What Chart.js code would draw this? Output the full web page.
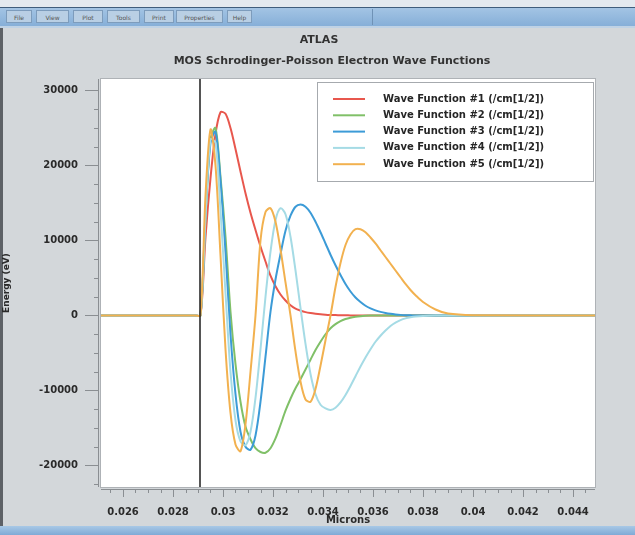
<!DOCTYPE html>
<html>
<head>
<meta charset="utf-8">
<script src="https://cdn.jsdelivr.net/npm/chart.js@4.4.0/dist/chart.umd.min.js"></script>
<style>
  html, body { margin: 0; padding: 0; }
  body { width: 635px; height: 535px; background: #d3d7da; position: relative; overflow: hidden; font-family: "DejaVu Sans", sans-serif; }
  #topstrip { position: absolute; left: 0; top: 0; width: 635px; height: 7px; background: #e3e9ef; border-bottom: 1px solid #3f5d7c; }
  #toolbar { position: absolute; left: 0; top: 8px; width: 635px; height: 18px; background: linear-gradient(#a3c4e4, #86afd8); border-bottom: 2px solid #bfd2e5; }
  .btn { position: absolute; top: 2px; height: 13px; background: #b9cfe4; border: 1px solid #7d9cbc; font-size: 6px; line-height: 13px; color: #555; text-align: center; box-sizing: border-box; }
  #sep { position: absolute; left: 372px; top: 1px; width: 1px; height: 16px; background: #6f92b6; }
  #leftedge { position: absolute; left: 0; top: 28px; width: 3px; height: 498px; background: #5d6166; }
  #bottombar { position: absolute; left: 0; top: 526px; width: 635px; height: 9px; background: linear-gradient(#a8c8e6, #7faad6); }
  .title { position: absolute; transform: translateX(-50%); white-space: nowrap; font-weight: bold; font-size: 11px; line-height: 14px; color: #333; }
  #chartBox { position: absolute; left: 0; top: 0; width: 635px; height: 535px; }
</style>
</head>
<body>
<div id="topstrip"></div>
<div id="toolbar">
  <div class="btn" style="left:6px;width:26px">File</div>
  <div class="btn" style="left:36px;width:33px">View</div>
  <div class="btn" style="left:73px;width:30px">Plot</div>
  <div class="btn" style="left:107px;width:33px">Tools</div>
  <div class="btn" style="left:144px;width:30px">Print</div>
  <div class="btn" style="left:176px;width:47px">Properties</div>
  <div class="btn" style="left:227px;width:25px">Help</div>
  <div id="sep"></div>
</div>
<div id="leftedge"></div>
<div id="bottombar"></div>
<div id="chartBox"><canvas id="waveChart" width="635" height="535"></canvas></div>
<div class="title" style="left:319px;top:33px">ATLAS</div>
<div class="title" style="left:332px;top:54px">MOS Schrodinger-Poisson Electron Wave Functions</div>

<script>
// position in microns
const xMicrons = [0.02512, 0.0289, 0.0291, 0.0293, 0.0295, 0.0297, 0.0299, 0.0301, 0.0303, 0.0305,
  0.0307, 0.0309, 0.0311, 0.0313, 0.0315, 0.0317, 0.0319, 0.0321, 0.0323, 0.0325,
  0.0327, 0.0329, 0.0331, 0.0333, 0.0335, 0.0337, 0.0339, 0.0341, 0.0343, 0.0345,
  0.0347, 0.0349, 0.0351, 0.0353, 0.0355, 0.0357, 0.0359, 0.0361, 0.0363, 0.0365,
  0.0367, 0.0369, 0.0371, 0.0373, 0.0375, 0.0377, 0.0380, 0.0385, 0.0390, 0.0400,
  0.04488];

const wave1 = [0, 0, 0, 10400, 18300, 24200, 27100, 26900, 25000, 22200,
  19200, 16300, 13700, 11400, 9200, 7200, 5300, 3900, 2800, 2000,
  1350, 900, 650, 450, 320, 230, 160, 110, 75, 50,
  30, 20, 10, 0, 0, 0, 0, 0, 0, 0,
  0, 0, 0, 0, 0, 0, 0, 0, 0, 0,
  0];

const wave2 = [0, 0, 0, 13000, 23500, 25000, 18500, 10500, 500, -6500,
  -11500, -14800, -16500, -17700, -18200, -18300, -17700, -16400, -14600, -12700,
  -11100, -9700, -8500, -7200, -5900, -4600, -3500, -2500, -1700, -1150,
  -750, -470, -290, -170, -90, -40, -15, 0, 0, 0,
  0, 0, 0, 0, 0, 0, 0, 0, 0, 0,
  0];

const wave3 = [0, 0, 0, 13500, 23000, 24500, 18000, 8500, -2500, -10500,
  -15500, -17500, -17900, -16000, -11500, -5500, 500, 4800, 8200, 11300,
  13300, 14500, 14800, 14500, 13700, 12500, 11100, 9600, 8100, 6700,
  5400, 4200, 3200, 2400, 1800, 1300, 950, 680, 480, 330,
  220, 140, 80, 40, 20, 0, 0, 0, 0, 0,
  0];

const wave4 = [0, 0, 0, 13000, 23500, 23000, 14000, 3000, -7500, -14000,
  -16800, -17300, -15500, -11000, -4500, 2500, 8500, 12700, 14300, 13500,
  10500, 6000, 1000, -3800, -7800, -10500, -11900, -12400, -12600, -12300,
  -11600, -10600, -9400, -8100, -6800, -5600, -4500, -3500, -2700, -2000,
  -1400, -950, -620, -390, -240, -140, -60, -15, 0, 0,
  0];

const wave5 = [0, 0, 0, 16000, 24800, 20000, 8000, -4500, -13000, -17200,
  -18100, -14500, -7500, 0, 10000, 13800, 14300, 12500, 8800, 4400,
  0, -4800, -8800, -11200, -11500, -9800, -6700, -3300, 0, 3800,
  7000, 9400, 10800, 11500, 11500, 11100, 10400, 9600, 8700, 7800,
  6900, 6000, 5100, 4200, 3400, 2700, 1800, 800, 250, 40,
  0];

const seriesLabels = [
  'Wave Function #1 (/cm[1/2])',
  'Wave Function #2 (/cm[1/2])',
  'Wave Function #3 (/cm[1/2])',
  'Wave Function #4 (/cm[1/2])',
  'Wave Function #5 (/cm[1/2])'
];
const seriesColors = ['#e8574d', '#80c068', '#3c9bd7', '#a5dbe5', '#f2b14f'];

const xMajorTicks = [0.026, 0.028, 0.030, 0.032, 0.034, 0.036, 0.038, 0.040, 0.042, 0.044];
const xTickLabels = ['0.026', '0.028', '0.03', '0.032', '0.034', '0.036', '0.038', '0.04', '0.042', '0.044'];
const yMajorTicks = [-20000, -10000, 0, 10000, 20000, 30000];
const yTickLabels = ['-20000', '-10000', '0', '10000', '20000', '30000'];

// oxide / silicon interface
const interfaceX = 0.02908;

const xMin = 0.02512, xMax = 0.04488;
const yMin = -22870, yMax = 31530;

function majorIndex(list, v){
    return list.findIndex(t => Math.abs(t - v) < 1e-7);
}

var waves = [wave1, wave2, wave3, wave4, wave5];
var datasets = waves.map(function(w, i){
    return {
        label: seriesLabels[i],
        data: xMicrons.map((x, j) => ({ x: x, y: w[j] })),
        borderColor: seriesColors[i],
        backgroundColor: seriesColors[i],
        borderWidth: 2,
        pointRadius: 0,
        tension: 0.3,
        order: 4 - i   // #5 ends up on top
    };
});

const plotFrame = {
    id: 'plotFrame',
    beforeDatasetsDraw(chart){
        const { ctx, chartArea: a } = chart;
        ctx.save();
        ctx.fillStyle = '#ffffff';
        ctx.fillRect(a.left, a.top, a.right - a.left, a.bottom - a.top);
        ctx.strokeStyle = '#aeb2b6';
        ctx.lineWidth = 1;
        ctx.strokeRect(a.left - 0.5, a.top - 0.5, a.right - a.left + 1, a.bottom - a.top + 1);
        ctx.restore();
    },
    afterDraw(chart){
        const { ctx, chartArea: a, scales } = chart;
        const x = scales.x, y = scales.y;
        ctx.save();
        ctx.strokeStyle = '#8a8e92';
        ctx.lineWidth = 1;
        ctx.beginPath();
        // axis lines
        ctx.moveTo(a.left, a.bottom + 2.5); ctx.lineTo(a.right, a.bottom + 2.5);
        ctx.moveTo(a.left - 2.5, a.top); ctx.lineTo(a.left - 2.5, a.bottom);
        x.ticks.forEach(t => {
            const px = Math.round(x.getPixelForValue(t.value)) + 0.5;
            const len = majorIndex(xMajorTicks, t.value) >= 0 ? 8 : 4;
            ctx.moveTo(px, a.bottom + 2); ctx.lineTo(px, a.bottom + 2 + len);
        });
        y.ticks.forEach(t => {
            const py = Math.round(y.getPixelForValue(t.value)) + 0.5;
            const len = majorIndex(yMajorTicks, t.value) >= 0 ? 14 : 5;
            ctx.moveTo(a.left - 2, py); ctx.lineTo(a.left - 2 - len, py);
        });
        ctx.stroke();
        ctx.restore();
    }
};

const interfaceLine = {
    id: 'interfaceLine',
    afterDatasetsDraw(chart){
        const { ctx, chartArea: a, scales } = chart;
        const px = scales.x.getPixelForValue(interfaceX);
        ctx.save();
        ctx.strokeStyle = '#1c1c1c';
        ctx.lineWidth = 1.5;
        ctx.beginPath();
        ctx.moveTo(px, a.top);
        ctx.lineTo(px, a.bottom);
        ctx.stroke();
        ctx.restore();
    }
};

const boxLegend = {
    id: 'boxLegend',
    afterDatasetsDraw(chart){
        const { ctx, chartArea: a } = chart;
        const left = a.right - 278, top = a.top + 3;
        ctx.save();
        ctx.fillStyle = '#ffffff';
        ctx.fillRect(left, top, 277, 100);
        ctx.strokeStyle = '#a6aaae';
        ctx.lineWidth = 1;
        ctx.strokeRect(left + 0.5, top + 0.5, 276, 99);
        ctx.font = 'bold 10px "DejaVu Sans"';
        ctx.textBaseline = 'middle';
        chart.data.datasets.forEach(function(ds, i){
            const yy = top + 17 + i * 16.3;
            ctx.strokeStyle = ds.borderColor;
            ctx.lineWidth = 2;
            ctx.beginPath();
            ctx.moveTo(left + 16, yy);
            ctx.lineTo(left + 48, yy);
            ctx.stroke();
            ctx.fillStyle = '#262626';
            ctx.fillText(ds.label, left + 66, yy);
        });
        ctx.restore();
    }
};

var tickFont = { family: 'DejaVu Sans', size: 10, weight: 'bold' };

new Chart(document.getElementById('waveChart').getContext('2d'), {
    type: 'line',
    data: { datasets: datasets },
    options: {
        responsive: false,
        animation: false,
        devicePixelRatio: 1,
        layout: { padding: { top: 79, right: 40, bottom: 9, left: 0 } },
        plugins: {
            legend: { display: false },
            tooltip: { enabled: false }
        },
        scales: {
            x: {
                type: 'linear',
                min: xMin,
                max: xMax,
                grid: { display: false, drawTicks: false },
                border: { display: false },
                afterBuildTicks: function(scale){
                    var list = [];
                    for (var k = 51; k <= 89; k++) list.push({ value: k / 2000 });
                    scale.ticks = list;
                },
                afterFit: function(scale){ scale.height = 39; },
                ticks: {
                    autoSkip: false,
                    maxRotation: 0,
                    padding: 19,
                    color: '#2a2a2a',
                    font: tickFont,
                    callback: function(v){
                        var i = majorIndex(xMajorTicks, v);
                        return i >= 0 ? xTickLabels[i] : '';
                    }
                },
                title: {
                    display: true,
                    text: 'Microns',
                    color: '#2a2a2a',
                    font: { family: 'DejaVu Sans', size: 10, weight: 'bold' },
                    padding: { top: 0, bottom: 0 }
                }
            },
            y: {
                type: 'linear',
                min: yMin,
                max: yMax,
                grid: { display: false, drawTicks: false },
                border: { display: false },
                afterBuildTicks: function(scale){
                    var list = [];
                    for (var k = -9; k <= 12; k++) list.push({ value: k * 2500 });
                    scale.ticks = list;
                },
                afterFit: function(scale){ scale.width = 101; },
                ticks: {
                    autoSkip: false,
                    padding: 23,
                    color: '#2a2a2a',
                    font: tickFont,
                    callback: function(v){
                        var i = majorIndex(yMajorTicks, v);
                        return i >= 0 ? yTickLabels[i] : '';
                    }
                },
                title: {
                    display: true,
                    text: 'Energy (eV)',
                    color: '#2a2a2a',
                    font: { family: 'DejaVu Sans', size: 9, weight: 'bold' },
                    padding: { top: 1, bottom: 0 }
                }
            }
        }
    },
    plugins: [plotFrame, interfaceLine, boxLegend]
});
</script>
</body>
</html>
